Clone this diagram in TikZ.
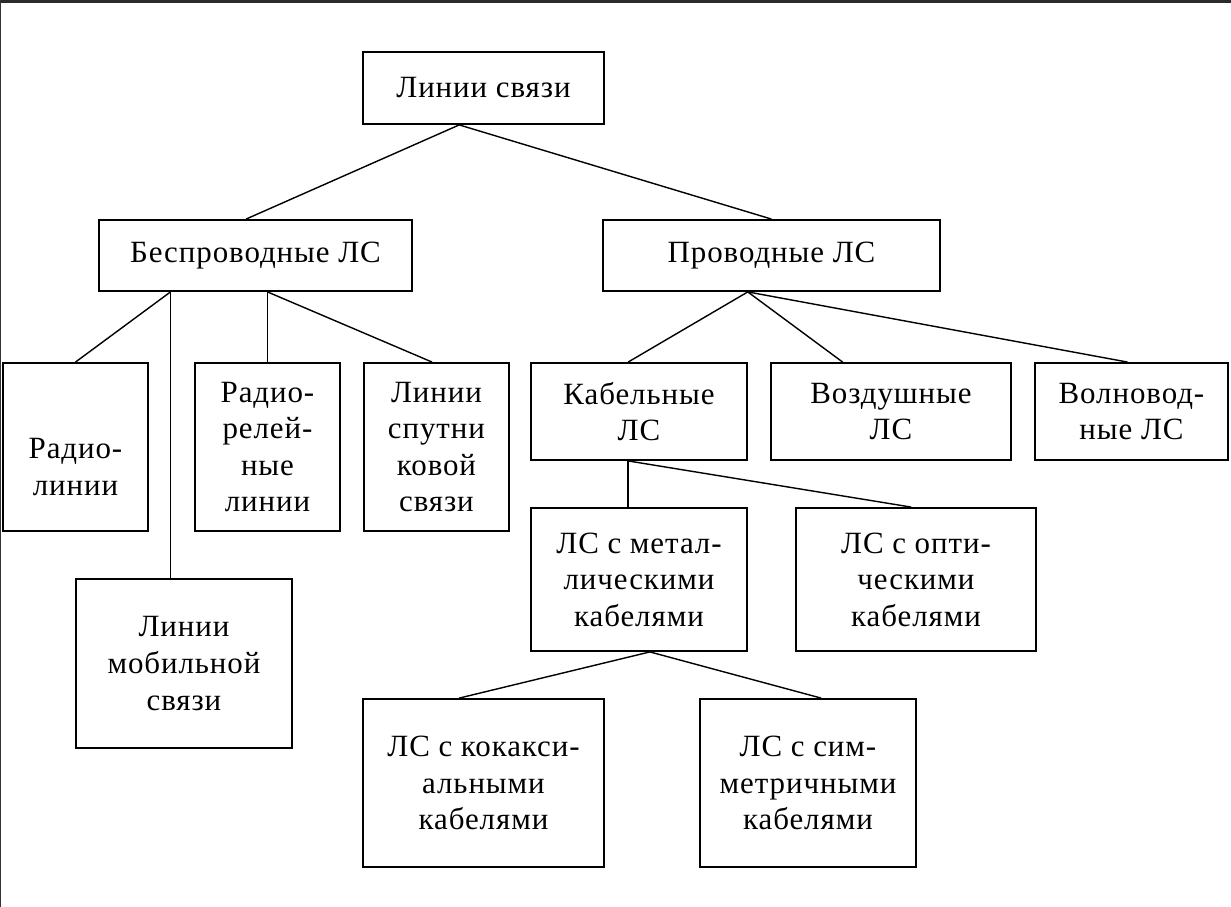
\documentclass[tikz,border=0pt]{standalone}
\usepackage{fontspec}
\setmainfont{Liberation Serif}[LetterSpace=3]
\usepackage{tikz}
\usetikzlibrary{calc}

\tikzset{box/.style={draw, line width=1.3pt, inner sep=0pt, align=center,
                     font=\fontsize{22}{26}\selectfont},
         wh/.style 2 args={minimum width=#1*0.025cm, minimum height=#2*0.025cm},
         link/.style={line width=1pt}}

\begin{document}
\begin{tikzpicture}[x=0.025cm, y=-0.025cm]
\useasboundingbox (0,0) rectangle (1231,907);
\fill[black!83]  (0,0) rectangle (1231,3);
\draw[black!80, line width=0.8pt] (0.5,0) -- (0.5,907);

% top
\node (root)      [box, wh={241}{72}]   at (483.5, 88)   {Линии связи};

\node (wireless)  [box, wh={313}{71}]   at (255.5,255.5) {Беспроводные ЛС};
\node (wired)     [box, wh={337}{71}]   at (771.5,255.5) {Проводные ЛС};

% wireless
\node (radio)     [box, wh={145}{168}]  at ( 75.5,447)   {};
\node (radiotxt)  [font=\fontsize{22}{26}\selectfont, align=center, inner sep=0pt]
                  at ([yshift=-0.5cm]radio.center)        {Радио-\\линии};
\node (relay)     [box, wh={145}{168}]  at (267.5,447)   {Радио-\\релей-\\ные\\линии};
\node (satellite) [box, wh={145}{168}]  at (436.5,447)   {Линии\\спутни\\ковой\\связи};
\node (mobile)    [box, wh={216}{169}]  at (184,663.5)   {Линии\\мобильной\\связи};

% wired
\node (cable)     [box, wh={216}{97}]   at (639,411.5)   {Кабельные\\ЛС};
\node (air)       [box, wh={240}{97}]   at (891,411.5)   {Воздушные\\ЛС};
\node (waveguide) [box, wh={193}{97}]   at (1131.5,411.5) {Волновод-\\ные ЛС};

\node (metal)     [box, wh={216}{143}]  at (639,579.5)   {ЛС с метал-\\лическими\\кабелями};
\node (optic)     [box, wh={240}{143}]  at (916,579.5)   {ЛС с опти-\\ческими\\кабелями};

\node (coax)      [box, wh={241}{168}]  at (483.5,783)   {ЛС с кокакси-\\альными\\кабелями};
\node (symm)      [box, wh={216}{168}]  at (808,783)     {ЛС с сим-\\метричными\\кабелями};


%------------------------------------------------------
% lines
\coordinate (r0) at ($(root.south west)!0.40!(root.south east)$);
\coordinate (w1) at ($(wireless.south west)!0.23!(wireless.south east)$);
\coordinate (w2) at (wireless.south -| relay.north);
\coordinate (p0) at ($(wired.south west)!0.43!(wired.south east)$);
\coordinate (c0) at ($(cable.south west)!0.45!(cable.south east)$);
\coordinate (m0) at ($(metal.south west)!0.55!(metal.south east)$);

\draw[link] (r0) -- ($(wireless.north west)!0.47!(wireless.north east)$);
\draw[link] (r0) -- (wired.north);

\draw[link] (w1) -- (radio.north);
\draw[link] (w1) -- (w1 |- mobile.north);
\draw[link] (w2) -- (relay.north);
\draw[link] (w2) -- ($(satellite.north west)!0.47!(satellite.north east)$);

\draw[link] (p0) -- ($(cable.north west)!0.45!(cable.north east)$);
\draw[link] (p0) -- ($(air.north west)!0.30!(air.north east)$);
\draw[link] (p0) -- ($(waveguide.north west)!0.48!(waveguide.north east)$);

\draw[link] (c0) -- (c0 |- metal.north);
\draw[link] (c0) -- ($(optic.north west)!0.48!(optic.north east)$);

\draw[link] (m0) -- ($(coax.north west)!0.40!(coax.north east)$);
\draw[link] (m0) -- ($(symm.north west)!0.56!(symm.north east)$);
\end{tikzpicture}
\end{document}
